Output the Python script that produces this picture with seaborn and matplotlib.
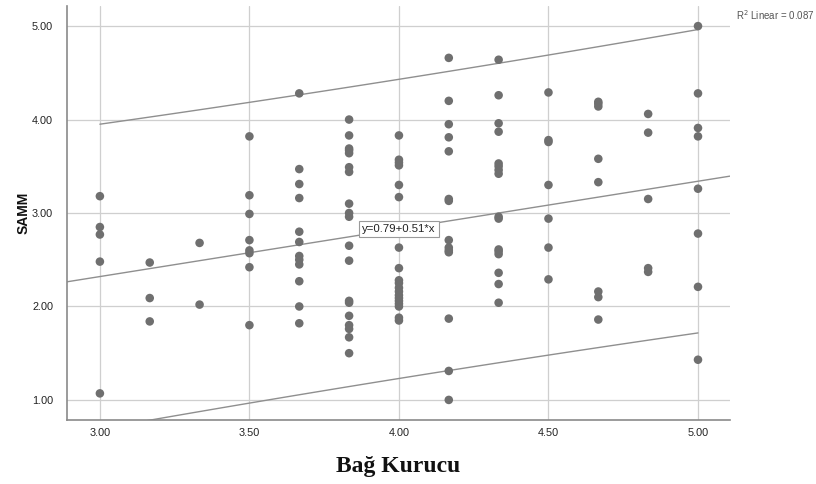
import numpy as np
import pandas as pd
import matplotlib
matplotlib.use("Agg")
import matplotlib.pyplot as plt
import seaborn as sns

# Bağ Kurucu score levels (x) and the SAMM scores observed at each level
levels = [3.0, 19 / 6, 10 / 3, 3.5, 11 / 3, 23 / 6, 4.0, 25 / 6, 13 / 3, 4.5, 14 / 3, 29 / 6, 5.0]
samm_300 = [3.18, 2.85, 2.77, 2.48, 1.07]
samm_317 = [2.47, 2.09, 1.84]
samm_333 = [2.68, 2.02]
samm_350 = [3.82, 3.19, 2.99, 2.71, 2.60, 2.57, 2.42, 1.80]
samm_367 = [4.28, 3.47, 3.31, 3.16, 2.80, 2.69, 2.54, 2.50, 2.45, 2.27, 2.00, 1.82]
samm_383 = [4.00, 3.83, 3.69, 3.67, 3.64, 3.49, 3.44, 3.10, 3.00, 2.96, 2.65, 2.49,
            2.06, 2.04, 1.90, 1.80, 1.76, 1.67, 1.50]
samm_400 = [3.83, 3.57, 3.54, 3.51, 3.30, 3.17, 2.63, 2.41, 2.28, 2.25, 2.20, 2.16,
            2.12, 2.09, 2.06, 2.03, 2.00, 1.88, 1.85]
samm_417 = [4.66, 4.20, 3.95, 3.81, 3.66, 3.15, 3.13, 2.71, 2.63, 2.60, 2.58, 1.87, 1.31, 1.00]
samm_433 = [4.64, 4.26, 3.96, 3.87, 3.53, 3.50, 3.46, 3.42, 2.96, 2.94, 2.61, 2.59,
            2.56, 2.36, 2.24, 2.04]
samm_450 = [4.29, 3.78, 3.76, 3.30, 2.94, 2.63, 2.29]
samm_467 = [4.19, 4.17, 4.14, 3.58, 3.33, 2.16, 2.10, 1.86]
samm_483 = [4.06, 3.86, 3.15, 2.41, 2.37]
samm_500 = [5.00, 4.28, 3.91, 3.82, 3.26, 2.78, 2.21, 1.43]

# Fitted linear model and its reported fit
intercept = 0.79
slope = 0.51
r2_text = "0.087"
T_975 = 1.98  # two-sided 95% t quantile for ~130 df

x_ticks = [3.0, 3.5, 4.0, 4.5, 5.0]
y_ticks = [1.0, 2.0, 3.0, 4.0, 5.0]

groups = [samm_300, samm_317, samm_333, samm_350, samm_367, samm_383, samm_400,
          samm_417, samm_433, samm_450, samm_467, samm_483, samm_500]
df = pd.DataFrame({
    "Bağ Kurucu": np.concatenate([[lv] * len(g) for lv, g in zip(levels, groups)]),
    "SAMM": np.concatenate(groups),
})

sns.set_theme(style="white")
plt.rcParams["font.family"] = ["Liberation Sans", "DejaVu Sans"]

fig = plt.figure(figsize=(8.16, 4.84), dpi=100)
ax = fig.add_axes([0.0821, 0.1322, 0.8125, 0.8554])

xlim = (2.89, 5.107)
ylim = (0.785, 5.215)
ax.set_xlim(*xlim)
ax.set_ylim(*ylim)

# grid
for xt in x_ticks:
    ax.axvline(xt, color="#cfcfcf", lw=0.9, zorder=0)
for yt in y_ticks:
    ax.axhline(yt, color="#cfcfcf", lw=0.9, zorder=0)

# individual 95% prediction interval around the fitted line
xv = df["Bağ Kurucu"].to_numpy()
yv = df["SAMM"].to_numpy()
n = len(xv)
resid = yv - (intercept + slope * xv)
s = np.sqrt(np.sum(resid ** 2) / (n - 2))
sxx = np.sum((xv - xv.mean()) ** 2)
xs = np.linspace(min(levels), max(levels), 100)
fit = intercept + slope * xs
half = T_975 * s * np.sqrt(1 + 1 / n + (xs - xv.mean()) ** 2 / sxx)

line_col = "#8f8f8f"
ax.plot(xs, fit + half, color=line_col, lw=1.0, zorder=2)
ax.plot(xs, fit - half, color=line_col, lw=1.0, zorder=2)
xf = np.array(xlim)
ax.plot(xf, intercept + slope * xf, color=line_col, lw=1.0, zorder=2)

sns.scatterplot(data=df, x="Bağ Kurucu", y="SAMM", ax=ax, color="#6f6f6f",
                s=38, edgecolor="none", zorder=3, legend=False)

# equation label at the middle of the fit line
xm = 4.0
ax.text(xm, intercept + slope * xm, f"y={intercept:.2f}+{slope:.2f}*x",
        ha="center", va="center", fontsize=8.2, color="#222222", zorder=5,
        bbox=dict(boxstyle="square,pad=0.25", fc="white", ec="#9a9a9a", lw=0.8))

fig.text(0.9015, 0.968, f"R$^2$ Linear = {r2_text}", fontsize=7, color="#555555",
         ha="left", va="center")

ax.set_xticks(x_ticks)
ax.set_yticks(y_ticks)
ax.set_xticklabels([f"{t:.2f}" for t in x_ticks])
ax.set_yticklabels([f"{t:.2f}" for t in y_ticks])
ax.tick_params(axis="x", length=0, pad=6, labelsize=7.8, colors="#222222")
ax.tick_params(axis="y", length=0, pad=10, labelsize=7.8, colors="#222222")

for side in ("top", "right"):
    ax.spines[side].set_visible(False)
for side in ("left", "bottom"):
    ax.spines[side].set_color("#8a8a8a")
    ax.spines[side].set_linewidth(1.2)

ax.set_xlabel("Bağ Kurucu", fontsize=17, fontweight="bold",
              family=["Liberation Serif", "DejaVu Serif"], color="#111111", labelpad=13)
ax.set_ylabel("SAMM", fontsize=10, fontweight="bold", color="#111111", labelpad=1)

fig.savefig("out.png", dpi=100)
